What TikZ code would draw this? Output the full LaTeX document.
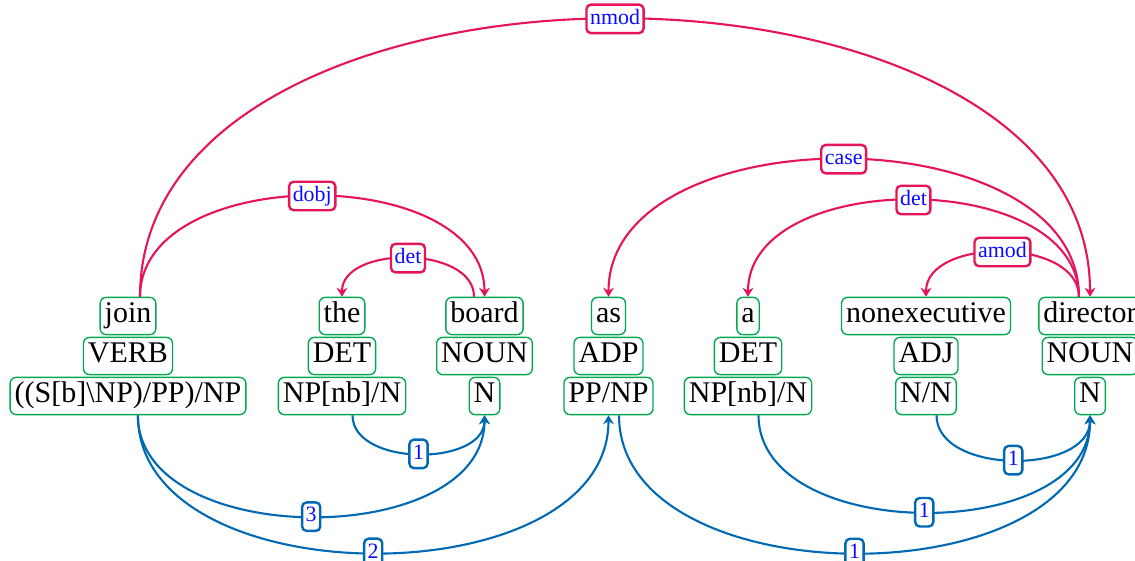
\documentclass[tikz,border=0pt]{standalone}
\usepackage{fontspec}
\setmainfont{Liberation Serif}
\usetikzlibrary{arrows.meta}
\definecolor{boxgreen}{RGB}{0,168,80}
\definecolor{deprel}{RGB}{230,20,90}
\definecolor{ccgblue}{RGB}{0,105,180}
\definecolor{labblue}{RGB}{10,10,255}
\tikzset{
  wbox/.style={draw=boxgreen, rounded corners=2pt, line width=0.45pt, inner xsep=1.5pt, inner ysep=1.5pt, text height=7pt, text depth=2.4pt, font=\fontsize{10}{12}\selectfont},
  rlab/.style={draw=deprel, fill=white, rounded corners=1.5pt, line width=0.8pt, text=labblue, font=\fontsize{7.3}{8}\selectfont, inner xsep=1.2pt, inner ysep=1.5pt, text height=5pt, text depth=1.5pt},
  blab/.style={rlab, draw=ccgblue},
  redge/.style={draw=deprel, line width=0.7pt, -{Stealth[length=3pt,width=3.6pt,inset=1pt]}},
  bedge/.style={draw=ccgblue, line width=0.7pt, -{Stealth[length=3pt,width=3.6pt,inset=1pt]}},
}
\begin{document}
\begin{tikzpicture}[x=0.33333pt,y=0.33333pt]
\useasboundingbox (0,0) rectangle (1135,560);
\clip (0,0) rectangle (1135,560);
% words
\node[wbox] (w1) at (128,244) {join};
\node[wbox] (w2) at (342,244) {the};
\node[wbox] (w3) at (484.5,244) {board};
\node[wbox] (w4) at (608.5,244) {as};
\node[wbox] (w5) at (748,244) {a};
\node[wbox] (w6) at (926,244) {nonexecutive};
\node[wbox] (w7) at (1090,244) {director};
% POS
\node[wbox] (p1) at (128,204) {VERB};
\node[wbox] (p2) at (342,204) {DET};
\node[wbox] (p3) at (484.5,204) {NOUN};
\node[wbox] (p4) at (608.5,204) {ADP};
\node[wbox] (p5) at (748,204) {DET};
\node[wbox] (p6) at (926,204) {ADJ};
\node[wbox] (p7) at (1090,204) {NOUN};
% CCG
\node[wbox] (c1) at (128,164) {((S[b]\textbackslash NP)/PP)/NP};
\node[wbox] (c2) at (342,164) {NP[nb]/N};
\node[wbox] (c3) at (484.5,164) {N};
\node[wbox] (c4) at (608.5,164) {PP/NP};
\node[wbox] (c5) at (748,164) {NP[nb]/N};
\node[wbox] (c6) at (926,164) {N/N};
\node[wbox] (c7) at (1090,164) {N};
% dependency arcs
\draw[redge] ([xshift=4pt]w1.north) to[out=90,in=90] node[rlab]{nmod} (w7.north);
\draw[redge] ([xshift=4pt]w1.north) to[out=90,in=90] node[rlab]{dobj} (w3.north);
\draw[redge] ([xshift=-3.5pt]w3.north) to[out=90,in=90] node[rlab]{det} (w2.north);
\draw[redge] ([xshift=-3.7pt]w7.north) to[out=90,in=90] node[rlab]{case} (w4.north);
\draw[redge] ([xshift=-3.7pt]w7.north) to[out=90,in=90] node[rlab]{det} (w5.north);
\draw[redge] ([xshift=-3.7pt]w7.north) to[out=90,in=90] node[rlab]{amod} (w6.north);
% CCG arcs
\draw[bedge] ([xshift=3.5pt]c2.south) to[out=-90,in=-90] node[blab]{1} (c3.south);
\draw[bedge] ([xshift=3.3pt]c1.south) to[out=-90,in=-90] node[blab]{3} (c3.south);
\draw[bedge] ([xshift=3.3pt]c1.south) to[out=-90,in=-90] node[blab]{2} (c4.south);
\draw[bedge] ([xshift=3.5pt]c4.south) to[out=-90,in=-90] node[blab]{1} (c7.south);
\draw[bedge] ([xshift=3.5pt]c5.south) to[out=-90,in=-90] node[blab]{1} (c7.south);
\draw[bedge] ([xshift=3.5pt]c6.south) to[out=-90,in=-90] node[blab]{1} (c7.south);
\end{tikzpicture}
\end{document}
